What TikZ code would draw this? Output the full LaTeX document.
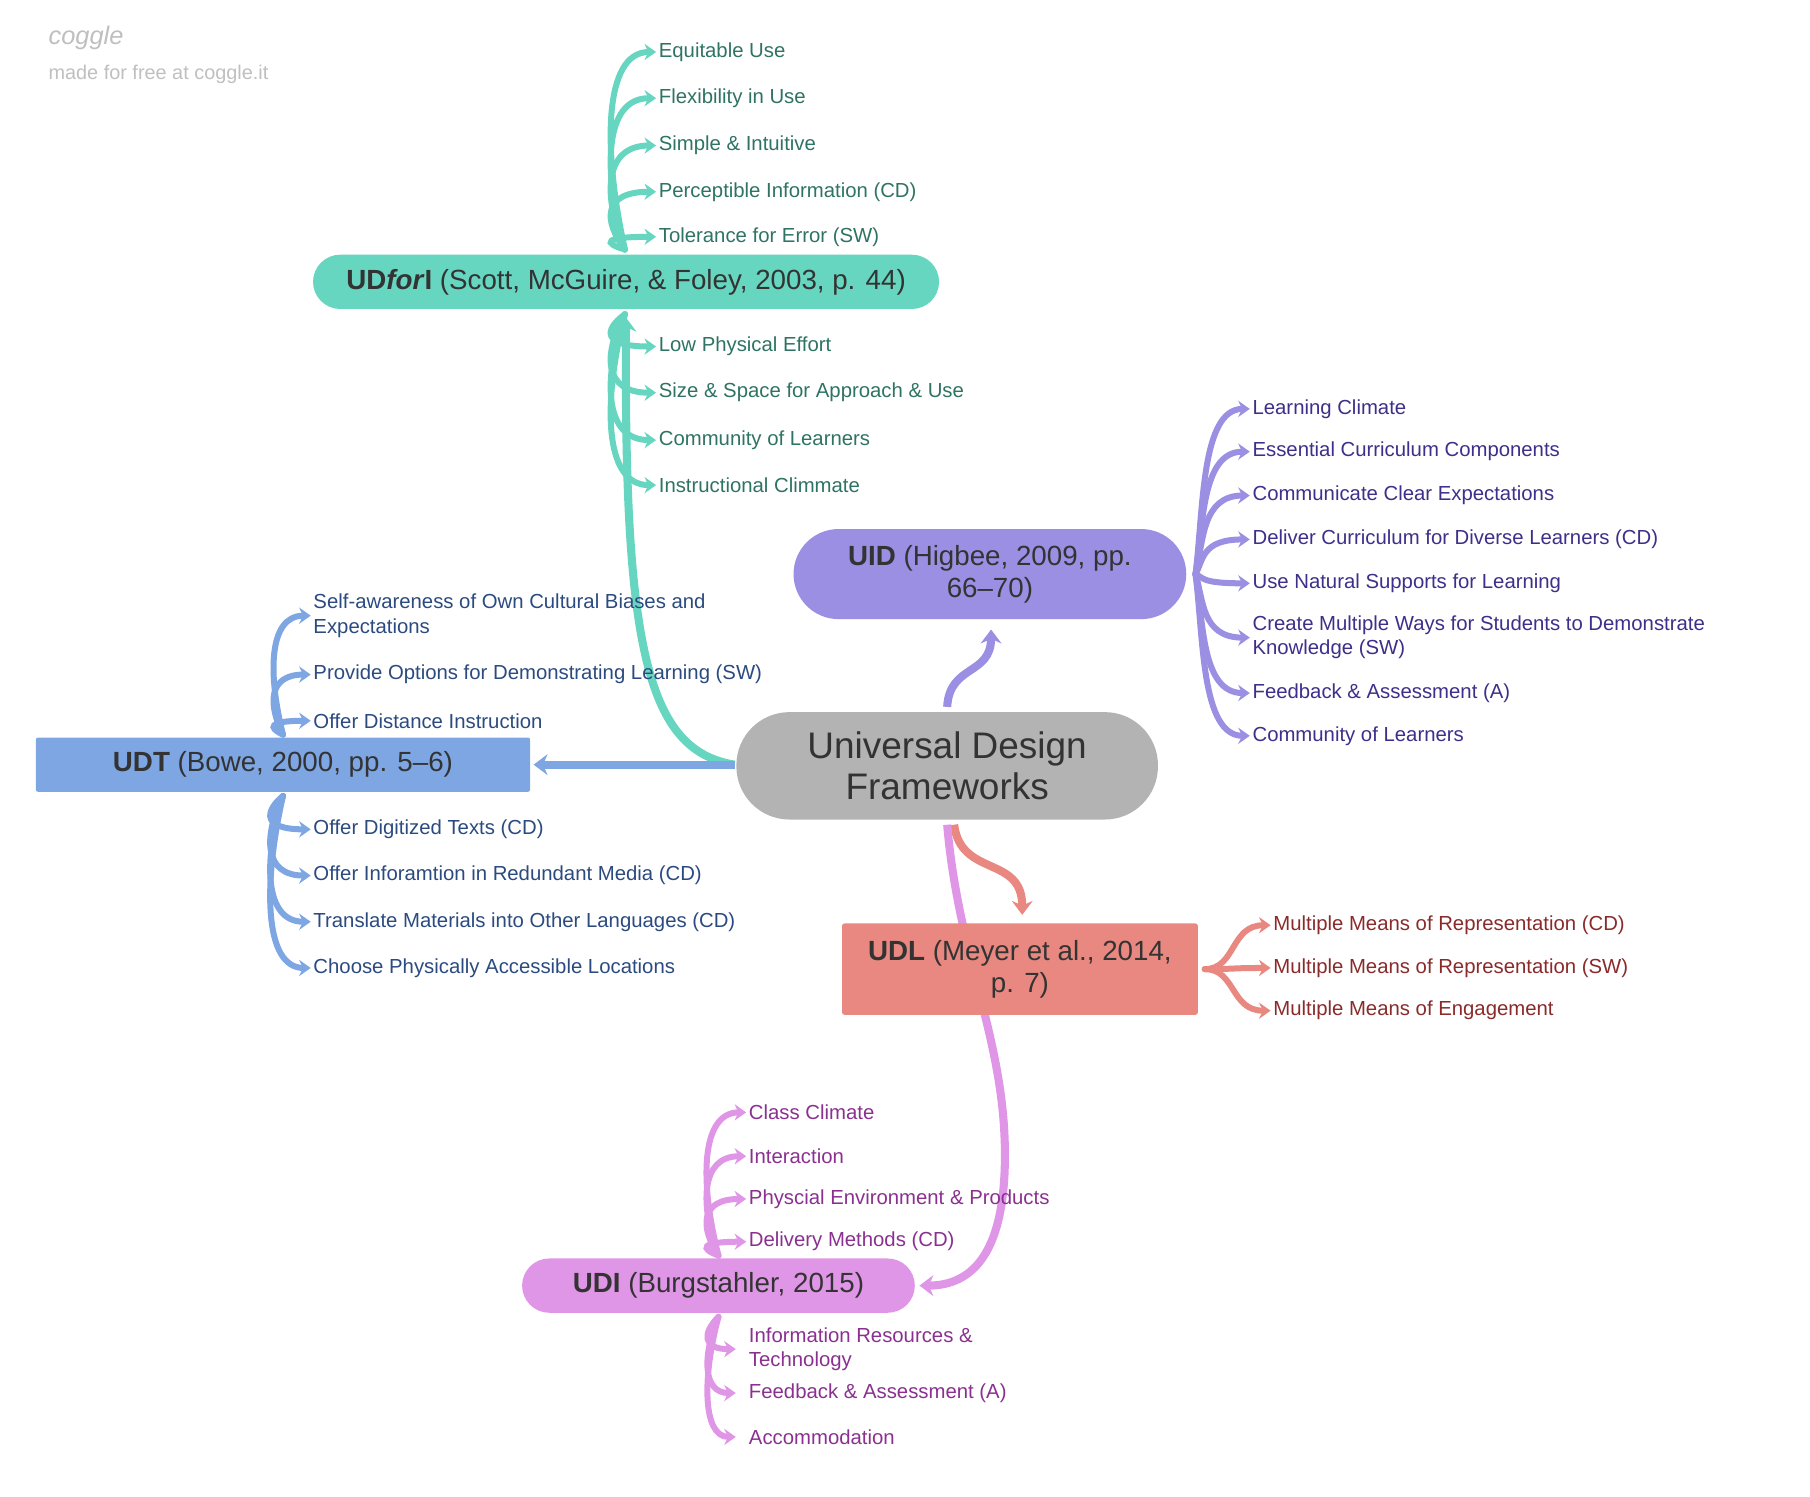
\documentclass[tikz,border=0pt]{standalone}
\usepackage{fontspec}
\setmainfont{Liberation Sans}
\usetikzlibrary{arrows.meta,positioning}
\definecolor{cteal}{HTML}{66D6C0}
\definecolor{tteal}{HTML}{2E7363}
\definecolor{cpurp}{HTML}{9A8FE3}
\definecolor{tpurp}{HTML}{3D2F8A}
\definecolor{cblue}{HTML}{7DA6E3}
\definecolor{tblue}{HTML}{2B4A80}
\definecolor{csalm}{HTML}{E88880}
\definecolor{tsalm}{HTML}{8A2A2A}
\definecolor{cpink}{HTML}{E096E6}
\definecolor{tpink}{HTML}{8A3090}
\definecolor{cgray}{HTML}{B3B3B3}
\tikzset{
  pill/.style={rounded corners=23.5*0.5pt, minimum height=23.5pt, font=\fontsize{12}{14}\selectfont, text=black!80, inner xsep=8pt},
  box/.style={minimum height=23.5pt, font=\fontsize{12}{14}\selectfont, text=black!80, inner xsep=8pt, rounded corners=1pt},
  item/.style={anchor=west, font=\fontsize{8.8}{10.5}\selectfont, align=left, inner sep=1pt},
  branch/.style={line width=2.6pt, draw=#1, line cap=round, -{Stealth[length=5pt,width=7pt]}},
  link/.style={line width=3.5pt, draw=#1, -{Stealth[length=6pt,width=9pt]}},
}
\begin{document}
\begin{tikzpicture}[x=0.5pt,y=-0.5pt]
\useasboundingbox (0,0) rectangle (1567,1296);
% watermark
\node[anchor=west, text=black!25, font=\itshape\fontsize{11}{12}\selectfont] (logo) at (35,33) {coggle};
\node[anchor=west, text=black!25, font=\fontsize{8.6}{10}\selectfont] (made) at (35,64) {made for free at coggle.it};

% links from the centre
\coordinate (cw) at (636,662);
\draw[link=cteal] (cw) .. controls (560,650) and (540,560) .. (542,275);
\draw[link=cblue] (cw) -- (462,662);
\draw[link=cpurp] (820,612) .. controls (822,575) and (858,585) .. (858,545);
\draw[link=csalm] (826,714) .. controls (832,760) and (885,740) .. (885,792);
\draw[link=cpink] (820,714) .. controls (830,830) and (870,900) .. (870,1000) .. controls (870,1080) and (845,1113) .. (796,1113);

% main nodes
\node[pill, fill=cgray, rounded corners=23pt, minimum width=182.5pt, minimum height=46.5pt, align=center, font=\fontsize{16}{18}\selectfont] (center) at (820,663) {Universal Design\\Frameworks};
\node[pill, fill=cteal, minimum width=271pt] (udfi) at (542,244) {\textbf{UD\textit{for}I} (Scott, McGuire, \& Foley, 2003, p. 44)};
\node[pill, fill=cpurp, minimum width=170pt, minimum height=39pt, rounded corners=19.5pt, align=center] (uid) at (857,497) {\textbf{UID} (Higbee, 2009, pp.\\66--70)};
\node[box, fill=cblue, minimum width=214pt] (udt) at (245,662) {\textbf{UDT} (Bowe, 2000, pp. 5--6)};
\node[box, fill=csalm, minimum width=154pt, minimum height=39.5pt, align=center] (udl) at (883,839) {\textbf{UDL} (Meyer et al., 2014,\\p. 7)};
\node[pill, fill=cpink, minimum width=170pt] (udi) at (622,1113) {\textbf{UDI} (Burgstahler, 2015)};

% UDforI
\coordinate (fa) at (541,216);
\coordinate (fb) at (541,272);
\foreach \y/\t [count=\i] in {45/Equitable Use, 85/Flexibility in Use, 126/Simple \& Intuitive, 166/Perceptible Information (CD), 205/Tolerance for Error (SW)}{
  \node[item, text=tteal] (fi\i) at (568,\y) {\t};
  \draw[branch=cteal] (fa) .. controls (522,{216-(216-\y)*0.5}) and (522,\y) .. (fi\i.west);
}
\foreach \y/\t [count=\i] in {300/Low Physical Effort, 340/Size \& Space for Approach \& Use, 381/Community of Learners, 420/Instructional Climmate}{
  \node[item, text=tteal] (fo\i) at (568,\y) {\t};
  \draw[branch=cteal] (fb) .. controls (522,{272+(\y-272)*0.5}) and (522,\y) .. (fo\i.west);
}

% UID
\coordinate (ua) at (1035,497);
\foreach \y/\t [count=\i] in {354/Learning Climate, 391/Essential Curriculum Components, 429/Communicate Clear Expectations, 467/Deliver Curriculum for Diverse Learners (CD), 505/Use Natural Supports for Learning, 552/{Create Multiple Ways for Students to Demonstrate\\Knowledge (SW)}, 600/Feedback \& Assessment (A), 637/Community of Learners}{
  \node[item, text=tpurp] (ui\i) at (1082,\y) {\t};
  \draw[branch=cpurp] (ua) .. controls (1042,{497+(\y-497)*0.4}) and (1040,\y) .. (ui\i.west);
}

% UDT
\coordinate (ta) at (245,636);
\coordinate (tb) at (245,689);
\foreach \y/\t [count=\i] in {533/{Self-awareness of Own Cultural Biases and\\Expectations}, 584/Provide Options for Demonstrating Learning (SW), 624/Offer Distance Instruction}{
  \node[item, text=tblue] (ti\i) at (269,\y) {\t};
  \draw[branch=cblue] (ta) .. controls (232,{636-(636-\y)*0.5}) and (232,\y) .. (ti\i.west);
}
\foreach \y/\t [count=\i] in {718/Offer Digitized Texts (CD), 758/Offer Inforamtion in Redundant Media (CD), 798/Translate Materials into Other Languages (CD), 838/Choose Physically Accessible Locations}{
  \node[item, text=tblue] (to\i) at (269,\y) {\t};
  \draw[branch=cblue] (tb) .. controls (228,{689+(\y-689)*0.5}) and (228,\y) .. (to\i.west);
}

% UDL
\coordinate (la) at (1043,839);
\foreach \y/\t [count=\i] in {801/Multiple Means of Representation (CD), 838/Multiple Means of Representation (SW), 875/Multiple Means of Engagement}{
  \node[item, text=tsalm] (li\i) at (1100,\y) {\t};
  \draw[branch=csalm] (la) .. controls (1070,839) and (1065,\y) .. (li\i.west);
}

% UDI
\coordinate (ia) at (622,1087);
\coordinate (ib) at (622,1140);
\foreach \y/\t [count=\i] in {963/Class Climate, 1001/Interaction, 1038/Physcial Environment \& Products, 1075/Delivery Methods (CD)}{
  \node[item, text=tpink] (ii\i) at (646,\y) {\t};
  \draw[branch=cpink] (ia) .. controls (606,{1087-(1087-\y)*0.5}) and (606,\y) .. (ii\i.west);
}
\foreach \y/\t [count=\i] in {1168/{Information Resources \&\\Technology}, 1206/Feedback \& Assessment (A), 1244/Accommodation}{
  \node[item, text=tpink] (io\i) at (646,\y) {\t};
  \draw[branch=cpink] (ib) .. controls (608,{1140+(\y-1140)*0.5}) and (608,\y) .. (637,\y);
}
\end{tikzpicture}
\end{document}
